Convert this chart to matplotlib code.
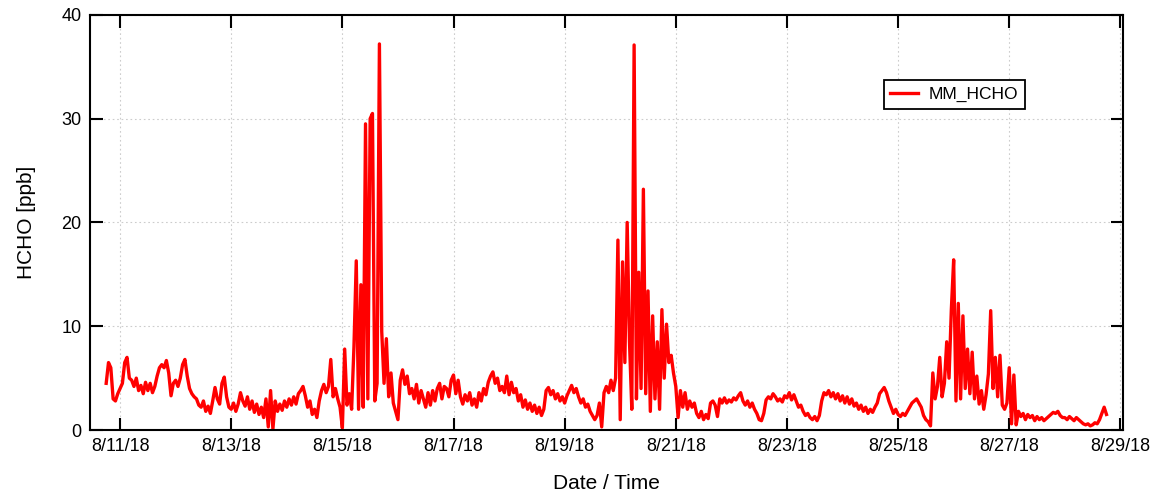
import numpy as np
import pandas as pd
import matplotlib
matplotlib.use("Agg")
import matplotlib.pyplot as plt
import matplotlib.dates as mdates

plt.rcParams['font.family'] = ['Liberation Sans', 'DejaVu Sans']

# hourly HCHO [ppb], first value at 8/10/18 18:00
aug10 = [4.5, 6.5, 6.0, 3.0, 2.8, 3.5]
aug11 = [4.0, 4.5, 6.5, 7.0, 5.0, 4.8, 4.2, 5.0, 3.8, 4.3, 3.5, 4.6,
         3.8, 4.5, 3.6, 4.2, 5.2, 6.0, 6.3, 6.0, 6.7, 5.5, 3.3, 4.5]
aug12 = [4.8, 4.2, 5.0, 6.3, 6.8, 5.2, 4.0, 3.5, 3.2, 3.0, 2.4, 2.2,
         2.8, 1.8, 2.3, 1.6, 2.8, 4.1, 3.0, 2.5, 4.5, 5.1, 3.2, 2.2]
aug13 = [2.0, 2.6, 1.8, 2.5, 3.6, 2.8, 2.3, 3.2, 2.0, 2.8, 1.7, 2.5,
         1.5, 2.2, 1.2, 3.0, 0.3, 3.8, 0.1, 2.8, 1.8, 2.5, 1.9, 2.8]
aug14 = [2.2, 3.0, 2.4, 3.2, 2.5, 3.5, 3.8, 4.2, 3.3, 2.2, 2.8, 1.5,
         2.0, 1.2, 2.8, 3.8, 4.4, 3.6, 4.2, 6.8, 3.2, 4.0, 3.0, 2.2]
aug15 = [0.2, 7.8, 2.4, 3.5, 2.0, 8.0, 16.3, 2.0, 14.0, 2.2, 29.5, 3.0,
         30.0, 30.5, 2.8, 4.5, 37.2, 9.5, 4.5, 8.8, 3.2, 5.5, 2.6, 1.8]
aug16 = [1.0, 4.8, 5.8, 4.4, 5.2, 3.5, 4.0, 3.0, 4.4, 2.6, 3.8, 3.0,
         2.2, 3.6, 2.4, 3.8, 2.8, 4.0, 4.5, 3.0, 4.2, 4.0, 3.2, 4.8]
aug17 = [5.3, 3.5, 4.8, 3.2, 2.5, 3.4, 2.8, 3.6, 2.4, 3.0, 2.2, 3.6,
         2.8, 4.0, 3.4, 4.6, 5.2, 5.6, 4.5, 5.0, 3.8, 4.2, 3.6, 5.2]
aug18 = [3.4, 4.6, 3.6, 4.0, 2.8, 3.4, 2.2, 2.9, 2.0, 2.6, 1.8, 2.4,
         1.6, 2.2, 1.4, 2.0, 3.8, 4.1, 3.4, 3.8, 3.0, 3.5, 2.8, 3.2]
aug19 = [2.6, 3.3, 3.8, 4.3, 3.6, 4.0, 3.2, 2.6, 3.0, 2.2, 2.5, 1.8,
         1.4, 1.0, 1.4, 2.6, 0.3, 3.6, 4.2, 3.6, 4.8, 3.8, 5.0, 18.3]
aug20 = [1.0, 16.2, 6.5, 20.0, 8.5, 2.0, 37.1, 3.0, 15.2, 4.0, 23.2, 3.5,
         13.4, 1.8, 11.0, 3.0, 8.5, 2.0, 11.6, 5.0, 10.2, 6.5, 7.2, 5.5]
aug21 = [4.2, 1.2, 3.8, 2.2, 3.6, 2.0, 2.8, 2.2, 2.6, 1.6, 1.2, 1.8,
         1.0, 1.5, 1.1, 2.6, 2.8, 2.4, 1.3, 3.0, 2.6, 3.1, 2.6, 2.9]
aug22 = [2.7, 3.1, 2.9, 3.3, 3.6, 2.8, 2.4, 2.8, 2.2, 2.6, 2.0, 1.6,
         1.0, 0.9, 1.6, 2.9, 3.2, 3.0, 3.5, 3.2, 2.8, 3.0, 2.7, 3.3]
aug23 = [3.1, 3.6, 2.9, 3.4, 2.8, 2.2, 2.4, 1.8, 1.4, 1.6, 1.2, 1.0,
         1.3, 0.9, 1.4, 2.8, 3.6, 3.4, 3.8, 3.2, 3.6, 3.0, 3.5, 2.8]
aug24 = [3.3, 2.6, 3.2, 2.5, 3.0, 2.3, 2.6, 2.0, 2.4, 1.8, 2.2, 1.6,
         2.0, 1.7, 2.2, 2.6, 3.5, 3.8, 4.1, 3.6, 2.8, 2.2, 1.6, 2.0]
aug25 = [1.5, 1.3, 1.6, 1.4, 1.8, 2.2, 2.6, 2.8, 3.0, 2.6, 2.2, 1.4,
         1.0, 0.8, 0.4, 5.5, 3.0, 4.2, 7.0, 3.2, 4.5, 8.5, 5.0, 11.6]
aug26 = [16.4, 2.8, 12.2, 3.0, 11.0, 4.0, 7.8, 3.5, 7.5, 3.0, 5.2, 2.5,
         3.8, 2.0, 3.4, 5.4, 11.5, 4.0, 7.0, 3.2, 7.2, 2.4, 2.0, 2.6]
aug27 = [6.0, 0.6, 5.3, 0.5, 1.8, 1.3, 1.6, 1.0, 1.5, 1.2, 1.4, 0.9,
         1.3, 1.0, 1.2, 0.9, 1.1, 1.3, 1.5, 1.7, 1.6, 1.8, 1.4, 1.2]
aug28 = [1.2, 1.0, 1.3, 1.1, 0.9, 1.2, 1.0, 0.8, 0.6, 0.5, 0.6, 0.4,
         0.5, 0.7, 0.6, 1.0, 1.6, 2.2, 1.5]

hcho = np.array(aug10 + aug11 + aug12 + aug13 + aug14 + aug15 + aug16 +
                aug17 + aug18 + aug19 + aug20 + aug21 + aug22 + aug23 +
                aug24 + aug25 + aug26 + aug27 + aug28)
times = pd.date_range('2018-08-10 18:00', periods=len(hcho), freq='h')

fig = plt.figure(figsize=(11.61, 4.96), dpi=100)
ax = fig.add_axes([0.0775, 0.133, 0.8895, 0.837])

ax.plot(times, hcho, color='#ff0000', lw=2.4, label='MM_HCHO')

ax.set_xlim(pd.Timestamp('2018-08-10 11:00'), pd.Timestamp('2018-08-29 01:00'))
ax.set_ylim(0, 40)
ax.set_yticks([0, 10, 20, 30, 40])

ax.xaxis.set_major_locator(mdates.DayLocator(bymonthday=range(1, 32, 2)))
ax.xaxis.set_major_formatter(
    plt.FuncFormatter(lambda v, p: (lambda d: f"{d.month}/{d.day}/{d:%y}")(mdates.num2date(v))))

ax.grid(True, color='#cccccc', linestyle=(0, (1.5, 2.5)), linewidth=0.8)
ax.tick_params(direction='in', length=9, width=1.5, top=True, right=True,
               labelsize=13, pad=6, colors='black')
for s in ax.spines.values():
    s.set_linewidth(1.5)

ax.set_xlabel('Date / Time', fontsize=15)
ax.set_ylabel('HCHO [ppb]', fontsize=15)
ax.xaxis.set_label_coords(0.5, -0.106)
ax.yaxis.set_label_coords(-0.052, 0.5)

leg = ax.legend(loc='upper left', bbox_to_anchor=(0.76, 0.865), fontsize=12.5,
                fancybox=False, edgecolor='black', framealpha=1,
                handlelength=1.6, handletextpad=0.6, borderpad=0.4)
leg.get_frame().set_linewidth(1.3)

fig.savefig('out.png', dpi=100)
